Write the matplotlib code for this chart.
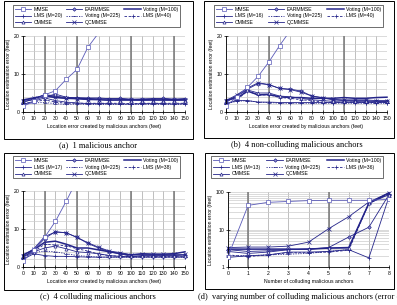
import matplotlib
matplotlib.use('Agg')
import matplotlib.pyplot as plt
from matplotlib.patches import Rectangle
from matplotlib.ticker import MultipleLocator, FixedLocator, NullFormatter
import numpy as np

plt.rcParams['font.family'] = ['Liberation Sans', 'DejaVu Sans']

W, H = 397, 305

# ---------------- data ----------------
x_err = [0, 10, 20, 30, 40, 50, 60, 70, 80, 90, 100, 110, 120, 130, 140, 150]

# (a) 1 malicious anchor
a_mmse_x = [0, 10, 20, 30, 40, 50, 60, 70, 80]
a_mmse = [1.5, 2.8, 4.5, 5.6, 8.6, 11.2, 17.0, 20.8, 25.0]
a_earmmse = [2.5, 3.5, 4.6, 4.2, 3.8, 3.8, 3.7, 3.7, 3.5, 3.6, 3.3, 3.4, 3.5, 3.6, 3.3, 3.5]
a_vote100 = [3.2, 3.7, 4.2, 3.8, 3.6, 3.5, 3.5, 3.4, 3.4, 3.4, 3.3, 3.3, 3.4, 3.4, 3.3, 3.4]
a_lms = [2.0, 2.8, 3.7, 3.0, 2.6, 2.4, 2.2, 2.2, 2.2, 2.1, 2.1, 2.2, 2.2, 2.2, 2.1, 2.2]
a_vote225 = [2.0, 2.4, 2.5, 2.2, 2.0, 2.1, 2.0, 2.0, 2.0, 2.0, 2.0, 2.0, 2.0, 2.0, 2.0, 2.0]
a_lms2 = [2.2, 2.6, 3.2, 2.6, 2.3, 2.3, 2.3, 2.3, 2.3, 2.3, 2.2, 2.3, 2.3, 2.3, 2.3, 2.3]
a_cmmse = [2.8, 3.2, 4.0, 4.7, 3.9, 3.6, 3.3, 3.2, 3.0, 3.0, 3.0, 3.0, 3.0, 3.0, 3.0, 3.0]
a_qcmmse = [3.0, 3.6, 4.4, 3.9, 3.6, 3.5, 3.2, 3.2, 3.1, 3.2, 3.2, 3.1, 3.2, 3.2, 3.1, 3.2]
a_lms_lab = ['LMS (M=20)', 'LMS (M=40)']

# (b) 4 non-colluding malicious anchors
b_mmse_x = [0, 10, 20, 30, 40, 50, 60]
b_mmse = [1.5, 4.0, 6.5, 9.4, 13.2, 17.5, 21.5]
b_earmmse = [2.5, 4.3, 6.0, 7.5, 7.2, 6.2, 6.0, 5.5, 4.2, 3.7, 3.2, 3.0, 3.0, 3.0, 2.8, 2.8]
b_vote100 = [3.2, 3.6, 5.5, 4.5, 4.6, 4.0, 3.8, 3.8, 3.6, 3.6, 3.6, 3.8, 3.6, 3.6, 3.8, 3.9]
b_lms = [2.2, 3.0, 3.0, 2.6, 2.6, 2.5, 2.5, 2.5, 2.5, 2.5, 2.5, 2.5, 2.5, 2.5, 2.5, 2.5]
b_vote225 = [2.2, 2.8, 3.0, 2.6, 2.5, 2.3, 2.3, 2.3, 2.3, 2.3, 2.3, 2.3, 2.3, 2.3, 2.3, 2.3]
b_lms2 = [2.0, 3.2, 5.5, 4.5, 4.5, 3.8, 3.6, 3.2, 3.0, 2.6, 2.5, 2.6, 2.6, 2.5, 2.5, 2.5]
b_cmmse = [2.8, 4.2, 5.8, 5.0, 5.0, 4.2, 4.0, 3.6, 3.2, 3.0, 2.8, 2.9, 2.8, 2.8, 2.8, 2.8]
b_qcmmse = [3.0, 4.5, 6.3, 7.7, 7.2, 6.2, 5.9, 5.2, 4.2, 3.8, 3.3, 3.2, 3.2, 3.2, 3.0, 3.0]
b_lms_lab = ['LMS (M=16)', 'LMS (M=40)']

# (c) 4 colluding malicious anchors
c_mmse_x = [0, 10, 20, 30, 40, 50]
c_mmse = [1.5, 4.5, 7.8, 12.0, 17.3, 22.9]
c_earmmse = [2.5, 4.5, 7.5, 9.3, 9.0, 7.8, 6.2, 5.0, 4.0, 3.5, 2.8, 3.0, 3.0, 3.0, 3.0, 3.2]
c_vote100 = [3.2, 4.5, 6.5, 6.8, 6.0, 5.0, 5.0, 4.5, 4.0, 3.5, 3.2, 3.5, 3.4, 3.4, 3.5, 4.0]
c_lms = [2.0, 3.5, 3.0, 2.8, 2.8, 2.7, 2.6, 2.6, 2.6, 2.6, 2.6, 2.6, 2.6, 2.6, 2.6, 2.6]
c_vote225 = [2.2, 3.8, 4.2, 4.0, 3.5, 3.0, 2.8, 2.6, 2.6, 2.6, 2.6, 2.6, 2.6, 2.6, 2.6, 2.6]
c_lms2 = [2.4, 4.0, 6.0, 5.8, 5.6, 4.8, 4.2, 3.4, 3.0, 2.8, 2.7, 2.7, 2.7, 2.7, 2.7, 2.7]
c_cmmse = [2.8, 4.0, 5.0, 5.5, 4.8, 4.0, 3.8, 3.5, 3.0, 2.8, 2.8, 2.9, 2.9, 2.9, 2.9, 2.9]
c_qcmmse = [3.0, 4.8, 8.0, 9.2, 9.0, 7.8, 6.4, 5.2, 4.2, 3.8, 3.2, 3.3, 3.3, 3.3, 3.3, 3.3]
c_lms_lab = ['LMS (M=17)', 'LMS (M=38)']

# (d) varying number of colluding malicious anchors
x_num = [0, 1, 2, 3, 4, 5, 6, 7, 8]
d_mmse = [1.9, 44, 53, 56, 59, 60, 60, 60, 64]
d_earmmse = [2.9, 2.6, 2.7, 2.9, 3.0, 3.3, 6.3, 11.5, 85]
d_vote100 = [3.0, 3.0, 3.0, 3.0, 3.0, 3.2, 3.3, 50, 95]
d_lms = [1.8, 2.0, 2.1, 2.5, 2.5, 2.6, 2.9, 1.75, 75]
d_vote225 = [2.0, 2.0, 2.1, 2.2, 2.3, 2.6, 2.9, 50, 90]
d_lms2 = [2.1, 1.9, 2.1, 2.4, 2.4, 2.5, 2.8, 50, 90]
d_cmmse = [2.6, 2.3, 2.5, 2.9, 3.0, 3.2, 3.2, 50, 85]
d_qcmmse = [3.3, 3.4, 3.4, 3.6, 4.6, 10.5, 22, 54, 95]
d_lms_lab = ['LMS (M=13)', 'LMS (M=36)']

captions = ['(a)  1 malicious anchor',
            '(b)  4 non-colluding malicious anchors',
            '(c)  4 colluding malicious anchors',
            '(d)  varying number of colluding malicious anchors (error created by malicious anchors)']

navy = '#25258a'
light = '#5a5ab8'
FS = 3.7


def fr(x0, y0, x1, y1):
    # pixel box (top-left origin) -> figure fraction [l, b, w, h]
    return [x0 / W, 1 - y1 / H, (x1 - x0) / W, (y1 - y0) / H]


fig = plt.figure(figsize=(W / 100, H / 100), dpi=100)

panels = [
    dict(ax=(23, 36, 185, 112), frame=(4, 1, 193, 139), leg=(13, 4, 180, 28),
         cap=(98, 145, 'center'), xs=x_err, mmse_x=a_mmse_x, mmse=a_mmse,
         ear=a_earmmse, v100=a_vote100, lms=a_lms, v225=a_vote225, lms2=a_lms2,
         cm=a_cmmse, qc=a_qcmmse, lab=a_lms_lab, dark=[20, 50, 100, 140], log=False),
    dict(ax=(226, 36, 387, 112), frame=(204, 1, 394, 138), leg=(214, 4, 383, 28),
         cap=(297, 145, 'center'), xs=x_err, mmse_x=b_mmse_x, mmse=b_mmse,
         ear=b_earmmse, v100=b_vote100, lms=b_lms, v225=b_vote225, lms2=b_lms2,
         cm=b_cmmse, qc=b_qcmmse, lab=b_lms_lab, dark=[40, 110], log=False),
    dict(ax=(23, 191, 185, 267), frame=(4, 153, 193, 290), leg=(13, 155, 180, 179),
         cap=(98, 297, 'center'), xs=x_err, mmse_x=c_mmse_x, mmse=c_mmse,
         ear=c_earmmse, v100=c_vote100, lms=c_lms, v225=c_vote225, lms2=c_lms2,
         cm=c_cmmse, qc=c_qcmmse, lab=c_lms_lab, dark=[20, 50, 100, 140], log=False),
    dict(ax=(228, 192, 389, 267), frame=(205, 153, 394, 289), leg=(211, 155, 383, 179),
         cap=(198, 297, 'left'), xs=x_num, mmse_x=x_num, mmse=d_mmse,
         ear=d_earmmse, v100=d_vote100, lms=d_lms, v225=d_vote225, lms2=d_lms2,
         cm=d_cmmse, qc=d_qcmmse, lab=d_lms_lab, dark=[1, 5], log=True),
]

for i, p in enumerate(panels):
    fx0, fy0, fx1, fy1 = p['frame']
    fig.add_artist(Rectangle((fx0 / W, 1 - fy1 / H), (fx1 - fx0) / W, (fy1 - fy0) / H,
                             transform=fig.transFigure, fill=False, ec='black', lw=0.7))
    ax = fig.add_axes(fr(*p['ax']))
    xs = p['xs']
    mk = dict(markersize=2.2, markeredgewidth=0.5)
    h_mmse, = ax.plot(p['mmse_x'], p['mmse'], '-', color=light, lw=0.6, marker='s',
                      mfc='white', mec=light, clip_on=True, zorder=5, **mk)
    h_ear, = ax.plot(xs, p['ear'], '-', color=navy, lw=0.6, marker='D', mfc='#9090d0',
                     mec=navy, clip_on=False, markersize=1.8, markeredgewidth=0.5)
    h_v100, = ax.plot(xs, p['v100'], '-', color=navy, lw=1.1, clip_on=False)
    h_lms, = ax.plot(xs, p['lms'], '-', color=navy, lw=0.6, marker='+', clip_on=False, **mk)
    h_v225, = ax.plot(xs, p['v225'], color=navy, lw=0.6, ls=(0, (1.5, 1.5)), marker='_',
                      clip_on=False, **mk)
    h_lms2, = ax.plot(xs, p['lms2'], color=navy, lw=0.6, ls=(0, (3, 2)), marker='+',
                      clip_on=False, **mk)
    h_cm, = ax.plot(xs, p['cm'], '-', color=navy, lw=0.6, marker='^', mfc='white',
                    mec=navy, clip_on=False, **mk)
    h_qc, = ax.plot(xs, p['qc'], '-', color=navy, lw=0.6, marker='x', clip_on=False, **mk)

    handles = [h_mmse, h_lms, h_cm, h_ear, h_v225, h_qc, h_v100, h_lms2]
    labels = ['MMSE', p['lab'][0], 'CMMSE', 'EARMMSE', 'Voting (M=225)', 'QCMMSE',
              'Voting (M=100)', p['lab'][1]]
    lx0, ly0, lx1, ly1 = p['leg']
    leg = ax.legend(handles, labels, ncol=3, loc='center', mode='expand',
                    bbox_to_anchor=(lx0 / W, 1 - ly1 / H, (lx1 - lx0) / W, (ly1 - ly0) / H),
                    bbox_transform=fig.transFigure, fontsize=FS, frameon=True,
                    fancybox=False, borderpad=0.3, labelspacing=0.35, handlelength=3.2,
                    handletextpad=0.5, columnspacing=1.0, borderaxespad=0)
    leg.get_frame().set_edgecolor('black')
    leg.get_frame().set_linewidth(0.5)

    for s in ['top', 'right']:
        ax.spines[s].set_visible(False)
    for s in ['left', 'bottom']:
        ax.spines[s].set_linewidth(0.6)

    if p['log']:
        ax.set_yscale('log')
        ax.set_ylim(1, 100)
        ax.set_xlim(0, 8)
        ax.xaxis.set_major_locator(MultipleLocator(1))
        ax.set_yticks([1, 10, 100])
        ax.set_yticklabels(['1', '10', '100'])
        ax.yaxis.set_minor_locator(FixedLocator([k * 10 ** e for e in (0, 1) for k in range(2, 10)]))
        ax.yaxis.set_minor_formatter(NullFormatter())
        ax.set_xlabel('Number of colluding malicious anchors', fontsize=FS, labelpad=2)
    else:
        ax.set_ylim(0, 20)
        ax.set_xlim(0, 150)
        ax.xaxis.set_major_locator(MultipleLocator(10))
        ax.set_yticks([0, 10, 20])
        ax.yaxis.set_minor_locator(MultipleLocator(2))
        ax.set_xlabel('Location error created by malicious anchors (feet)', fontsize=FS, labelpad=2)
    ax.set_ylabel('Location estimation error (feet)', fontsize=FS, labelpad=2)

    ax.grid(axis='x', which='major', color='#b4b4b4', lw=0.6)
    ax.grid(axis='y', which='both', color='#cccccc', lw=0.5)
    for dx in p['dark']:
        ax.axvline(dx, color='#777777', lw=1.1, zorder=0.6)
    ax.set_axisbelow(True)
    ax.tick_params(axis='both', which='major', labelsize=FS, length=2.5, width=0.5,
                   pad=1.5, direction='inout')
    ax.tick_params(axis='y', which='minor', length=0)

    cx, cy, ha = p['cap']
    fig.text(cx / W, 1 - cy / H, captions[i], ha=ha, va='center', fontsize=6,
             family=['Liberation Serif', 'DejaVu Serif'])

fig.savefig('out.png', dpi=100, facecolor='white')
